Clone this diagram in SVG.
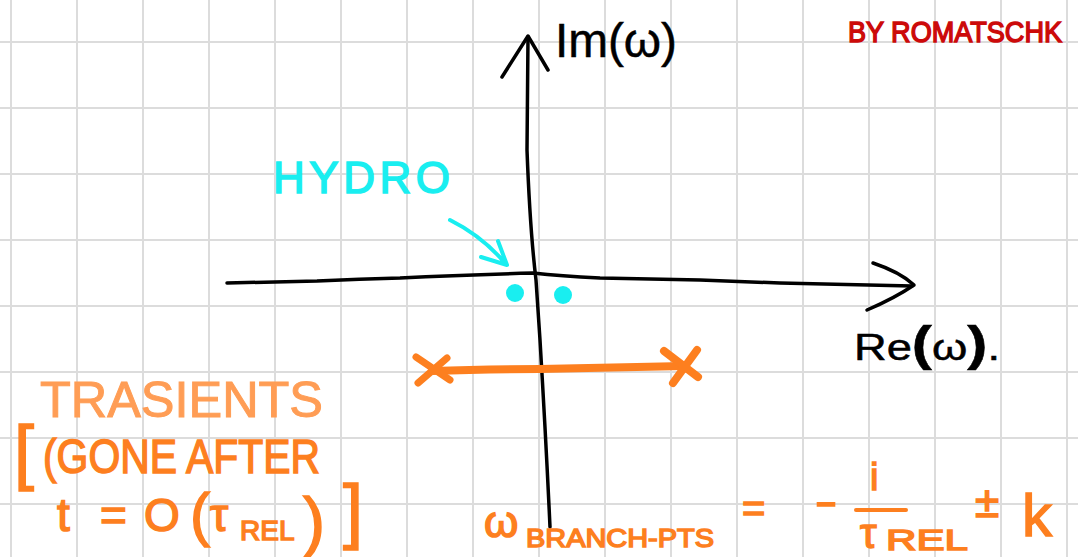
<svg xmlns="http://www.w3.org/2000/svg" width="1078" height="557" viewBox="0 0 1078 557">
<style>
.grid line{stroke:#dcdcdc;stroke-width:2}
.ink{fill:none;stroke:#000;stroke-width:3.5;stroke-linecap:round;stroke-linejoin:round}
.t{font-family:"Liberation Sans",Arial,sans-serif}
.blk{fill:#000;stroke:#000;stroke-width:0.5}
.cy{fill:#19eef0;stroke:#19eef0;stroke-width:1.5}
.or{fill:#fd7f1f;stroke:#fd7f1f;stroke-width:1.5}
.lo{fill:#ff9d55;stroke:#ff9d55;stroke-width:1}
.rd{fill:#cc0a0a;stroke:#cc0a0a;stroke-width:1.5}
.orl{fill:none;stroke:#fd7f1f;stroke-linecap:round;stroke-linejoin:round}
</style>
<rect width="1078" height="557" fill="#fff"/>
<g class="grid">
<line x1="11" y1="0" x2="11" y2="557"/><line x1="77" y1="0" x2="77" y2="557"/><line x1="143" y1="0" x2="143" y2="557"/><line x1="209" y1="0" x2="209" y2="557"/><line x1="275" y1="0" x2="275" y2="557"/><line x1="341" y1="0" x2="341" y2="557"/><line x1="407" y1="0" x2="407" y2="557"/><line x1="473" y1="0" x2="473" y2="557"/><line x1="539" y1="0" x2="539" y2="557"/><line x1="605" y1="0" x2="605" y2="557"/><line x1="671" y1="0" x2="671" y2="557"/><line x1="737" y1="0" x2="737" y2="557"/><line x1="803" y1="0" x2="803" y2="557"/><line x1="869" y1="0" x2="869" y2="557"/><line x1="935" y1="0" x2="935" y2="557"/><line x1="1001" y1="0" x2="1001" y2="557"/><line x1="1067" y1="0" x2="1067" y2="557"/>
<line x1="0" y1="42" x2="1078" y2="42"/><line x1="0" y1="108" x2="1078" y2="108"/><line x1="0" y1="174" x2="1078" y2="174"/><line x1="0" y1="240" x2="1078" y2="240"/><line x1="0" y1="306" x2="1078" y2="306"/><line x1="0" y1="372" x2="1078" y2="372"/><line x1="0" y1="438" x2="1078" y2="438"/><line x1="0" y1="504" x2="1078" y2="504"/>
</g>
<g id="connectors">
<path class="ink" d="M528,37 L527,150 Q530,230 536,280 L540,340 Q546,440 550,527"/>
<path class="ink" d="M502,77 L528,36 L548,70"/>
<path class="ink" d="M227,283 L317,281 Q360,279 400,278 Q460,275 533,273 Q560,276 600,278 L700,280 L780,283 L912,286"/>
<path class="ink" d="M873,263 Q900,272 914,285 Q895,298 867,310"/>
<path fill="none" stroke="#19eef0" stroke-width="4" stroke-linecap="round" stroke-linejoin="round" d="M450,220 Q482,236 505,263 M498,241 L507,265 L481,257"/>
<path class="orl" stroke-width="8" d="M432,371 Q480,369 540,369 L685,366"/>
<path class="orl" stroke-width="7" d="M416,357 L450,380 M447,358 L418,383"/>
<path class="orl" stroke-width="8" d="M664,351 L698,377 M697,350 L673,383"/>
</g>
<g id="axis-labels">
<text class="t blk" x="555" y="57" font-size="48" textLength="122" lengthAdjust="spacingAndGlyphs">Im(ω)</text>
<text class="t blk" x="854" y="360" font-size="36" textLength="146" lengthAdjust="spacingAndGlyphs">Re<tspan font-weight="bold" font-size="48">(</tspan>ω<tspan font-weight="bold" font-size="48">)</tspan>.</text>
</g>
<g id="hydro">
<text class="t cy" x="273" y="193" font-size="44" textLength="177" lengthAdjust="spacing">HYDRO</text>
<circle cx="515" cy="293" r="9" fill="#19eef0"/>
<circle cx="563" cy="295" r="9" fill="#19eef0"/>
</g>
<g id="transients">
<text class="t lo" x="40" y="417" font-size="50" textLength="283" lengthAdjust="spacingAndGlyphs">TRASIENTS</text>
<text class="t or" x="14" y="476" font-size="72">[</text>
<text class="t or" x="43" y="473" font-size="48" textLength="277" lengthAdjust="spacingAndGlyphs">(GONE AFTER</text>
<text class="t or" y="531" font-size="46"><tspan x="57">t</tspan><tspan x="100">=</tspan><tspan x="144">O</tspan><tspan x="190" font-size="60" dy="4">(</tspan><tspan x="210" dy="-4">τ</tspan><tspan x="240" font-size="28" dy="9">REL</tspan><tspan x="303" font-size="66" dy="4">)</tspan></text>
<text class="t or" x="343" y="535" font-size="72">]</text>
</g>
<g id="formula">
<text class="t or" x="484" y="537" font-size="44">ω</text>
<text class="t or" x="526" y="547" font-size="26" textLength="188" lengthAdjust="spacingAndGlyphs">BRANCH-PTS</text>
<text class="t or" x="742" y="522" font-size="40">=</text>
<text class="t or" x="815" y="515" font-size="40" textLength="22" lengthAdjust="spacingAndGlyphs">-</text>
<text class="t or" x="870" y="490" font-size="38">i</text>
<line x1="856" y1="510" x2="906" y2="510" stroke="#fd7f1f" stroke-width="4" stroke-linecap="round"/>
<text class="t or" x="860" y="548" font-size="42">τ</text>
<text class="t or" x="886" y="550" font-size="30" textLength="82" lengthAdjust="spacingAndGlyphs">REL</text>
<text class="t or" x="975" y="517" font-size="44">±</text>
<text class="t or" x="1022" y="536" font-size="60">k</text>
</g>
<g id="credit">
<text class="t rd" x="848" y="42" font-size="30" textLength="214" lengthAdjust="spacingAndGlyphs">BY ROMATSCHK</text>
</g>
</svg>
